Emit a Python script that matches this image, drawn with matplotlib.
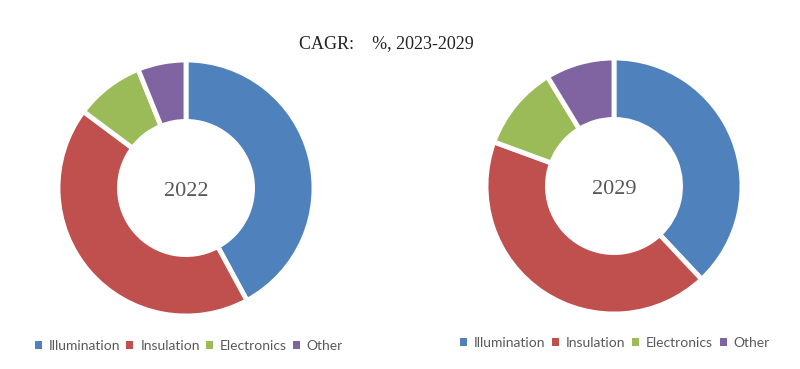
import matplotlib.pyplot as plt
from matplotlib.patches import Patch

# Datos
categorias = ['Illumination', 'Insulation', 'Electronics', 'Other']
valores_2022 = [42.1, 43.1, 8.7, 6.1]
valores_2029 = [38.0, 42.6, 10.7, 8.7]
colores = ['#4F81BD', '#C0504D', '#9BBB59', '#8064A2']
anios = ['2022', '2029']

fig = plt.figure(figsize=(8, 3.69), dpi=100)
ax = fig.add_axes([0, 0, 1, 1])
ax.set_xlim(0, 800)
ax.set_ylim(0, 369)
ax.set_aspect('equal')
ax.axis('off')

centros = [(186, 369 - 188), (614, 369 - 186)]
legend_y = [369 - 346, 369 - 343]
legend_x = [(35, 343), (460, 770)]

for datos, anio, centro, ly, lx in zip([valores_2022, valores_2029], anios, centros, legend_y, legend_x):
    ax.pie(datos, colors=colores, startangle=90, counterclock=False,
           center=centro, radius=128, frame=True,
           wedgeprops=dict(width=128 * 0.48, edgecolor='white', linewidth=3.5))
    # etiqueta del año en el centro
    ax.text(centro[0], centro[1] - 1, anio, ha='center', va='center_baseline',
            fontsize=16, color='#595959', family='Liberation Serif')
    handles = [Patch(facecolor=c, edgecolor='none') for c in colores]
    ax.legend(handles, categorias, loc='center', ncol=4, frameon=False,
              bbox_to_anchor=(lx[0], ly - 8, lx[1] - lx[0], 16), bbox_transform=ax.transData,
              mode='expand', handlelength=0.5, handleheight=0.5, handletextpad=0.5,
              columnspacing=1.5, borderaxespad=0, borderpad=0,
              prop={'family': 'Lato', 'size': 10}, labelcolor='#595959')
    if anio == '2022':
        ax.add_artist(ax.get_legend())

ax.set_xlim(0, 800)
ax.set_ylim(0, 369)

ax.text(386, 369 - 44, 'CAGR:    %, 2023-2029', ha='center', va='center',
        fontsize=13, color='#222222', family='Liberation Serif')

plt.savefig('out.png', dpi=100)
